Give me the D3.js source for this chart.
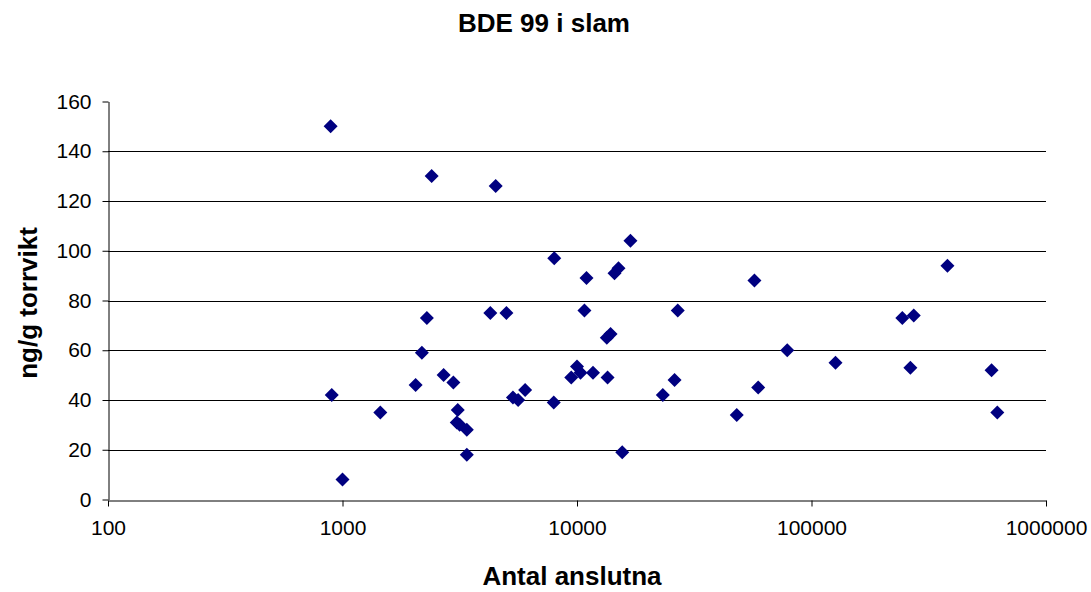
<!DOCTYPE html>
<html><head><meta charset="utf-8">
<script src="https://cdn.jsdelivr.net/npm/d3@7"></script>
<style>body{margin:0;background:#fff}svg{display:block}text{font-family:"Liberation Sans",Arial,sans-serif}</style>
</head><body>
<svg id="c" width="1091" height="592"></svg>
<script>
const antal = [890,2400,4500,8000,2290,4270,5000,2180,2700,2970,2050,900,1450,3100,3070,3160,3390,3390,1000,5330,5610,6010,7960,9450,10000,16900,10980,15030,14450,57100,10760,26900,13400,13900,78800,126600,10350,11700,13500,26060,23230,59260,47990,15590,380000,244000,273000,264000,586000,620000];
const bde99 = [150,130,126,97,73,75,75,59,50,47,46,42,35,36,31,30,28,18,8,41,40,44,39,49,53.5,104,89,93,91,88,76,76,65,66.5,60,55,51,51,49,48,42,45,34,19,94,73,74,53,52,35];
const xTicks = [100,1000,10000,100000,1000000];
const yTicks = [0,20,40,60,80,100,120,140,160];
const title = "BDE 99 i slam", xTitle = "Antal anslutna", yTitle = "ng/g torrvikt";

const svg = d3.select("#c");
const L=108, R=1046, T=101.5, B=499.5;
const x = d3.scaleLog().domain([100,1000000]).range([L,R]);
const y = d3.scaleLinear().domain([0,160]).range([B,T]);

// grid
svg.append("g").selectAll("line").data(yTicks.filter(d=>d>0 && d<160)).join("line")
  .attr("x1",L).attr("x2",R).attr("y1",d=>Math.round(y(d))+0.5).attr("y2",d=>Math.round(y(d))+0.5)
  .attr("stroke","#000").attr("stroke-width",1);

const xa = svg.append("g").attr("transform",`translate(0,${Math.round(B)+0.5})`)
  .call(d3.axisBottom(x).tickValues(xTicks).tickFormat(d3.format("d")).tickSize(6).tickSizeOuter(0).tickPadding(14));
const ya = svg.append("g").attr("transform",`translate(${L+0.5},0)`)
  .call(d3.axisLeft(y).tickValues(yTicks).tickSize(6).tickSizeOuter(0).tickPadding(11));
[xa,ya].forEach(a=>{a.selectAll("text").attr("font-size",21).attr("fill","#000").attr("font-family","Liberation Sans, Arial, sans-serif");
  a.selectAll("line,path").attr("stroke","#000");});

// points
const diamond = d3.symbol().type(d3.symbolSquare).size(98);
svg.append("g").selectAll("path").data(antal.map((a,i)=>[a,bde99[i]])).join("path")
  .attr("d",diamond).attr("fill","#000080")
  .attr("transform",d=>`translate(${x(d[0])},${y(d[1])}) rotate(45)`);

svg.append("text").attr("x",544).attr("y",32).attr("text-anchor","middle").attr("font-weight","bold").attr("font-size",26).text(title);
svg.append("text").attr("x",572).attr("y",585).attr("text-anchor","middle").attr("font-weight","bold").attr("font-size",26).text(xTitle);
svg.append("text").attr("transform","translate(37,303) rotate(-90)").attr("text-anchor","middle").attr("font-weight","bold").attr("font-size",26).text(yTitle);
</script>
</body></html>
